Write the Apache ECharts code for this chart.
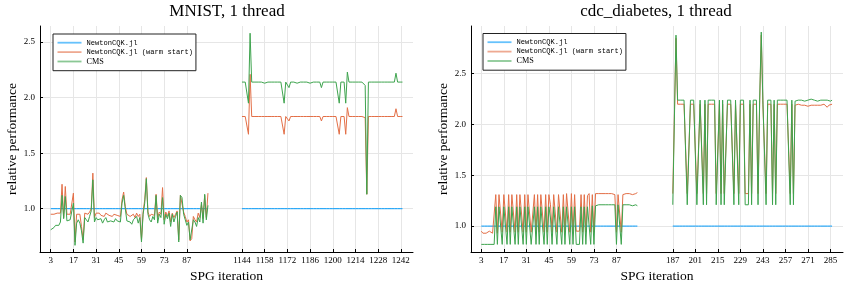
<!DOCTYPE html>
<html><head><meta charset="utf-8">
<script src="https://cdn.jsdelivr.net/npm/echarts@6/dist/echarts.min.js"></script>
<style>html,body{margin:0;padding:0;background:#fff}#c{width:850px;height:284px}</style>
</head><body><div id="c"></div>
<script>
// ---------------- data ----------------
const seriesNames = ['NewtonCQK.jl', 'NewtonCQK.jl (warm start)', 'CMS'];

// NewtonCQK.jl is the reference: its relative performance is 1.0 everywhere
const newtonRelative = 1.0;

// MNIST: iterations 3..100 and 1144..1243
const mnistRangeA = [3, 100];
const mnistRangeB = [1144, 1243];
const mnistTicks = [3, 17, 31, 45, 59, 73, 87, 1144, 1158, 1172, 1186, 1200, 1214, 1228, 1242];

const mnistWarmA = [
  0.95, 0.94, 0.95, 0.95, 0.96, 0.95, 0.96, 1.22, 0.92, 1.20,
  0.95, 0.96, 0.95, 0.95, 1.14, 0.70, 0.95, 0.96, 0.95, 0.84,
  0.72, 0.96, 0.95, 0.95, 0.97, 1.00, 1.32, 0.92, 0.96, 0.95,
  0.96, 0.94, 0.95, 0.93, 0.96, 0.95, 0.94, 0.95, 0.93, 0.95,
  0.96, 0.94, 0.95, 0.93, 1.08, 1.15, 1.02, 0.95, 0.96, 0.93,
  0.94, 0.95, 0.92, 0.96, 0.93, 0.95, 0.72, 0.97, 1.08, 1.28,
  0.97, 0.93, 0.95, 0.96, 0.94, 1.13, 0.92, 0.97, 0.95, 1.19,
  0.90, 0.97, 0.93, 0.98, 0.88, 0.96, 0.92, 0.95, 0.98, 0.72,
  1.12, 1.11, 0.97, 0.93, 0.88, 0.90, 0.71, 0.73, 0.93, 0.90,
  0.88, 0.96, 0.92, 1.04, 0.91, 1.12, 0.92, 1.14
];
const mnistCmsA = [
  0.81, 0.82, 0.83, 0.85, 0.86, 0.85, 0.88, 1.12, 0.91, 1.11,
  0.89, 0.88, 0.90, 0.90, 1.05, 0.67, 0.87, 0.90, 0.87, 0.80,
  0.69, 0.92, 0.90, 0.88, 0.93, 0.98, 1.26, 0.88, 0.92, 0.90,
  0.89, 0.91, 0.87, 0.90, 0.92, 0.88, 0.87, 0.89, 0.90, 0.88,
  0.91, 0.89, 0.90, 0.88, 1.05, 1.12, 1.00, 0.89, 0.90, 0.88,
  0.86, 0.90, 0.89, 0.93, 0.87, 0.92, 0.70, 0.95, 1.05, 1.27,
  0.95, 0.90, 0.88, 0.93, 0.90, 1.12, 0.87, 0.95, 0.92, 1.10,
  0.86, 0.95, 0.91, 0.96, 0.84, 0.95, 0.88, 0.93, 0.97, 0.70,
  1.12, 1.10, 0.95, 0.90, 0.85, 0.88, 0.72, 0.72, 0.90, 0.88,
  0.84, 0.92, 0.88, 1.06, 0.87, 1.13, 0.90, 1.03
];
const mnistWarmB = [
  1.83, 1.83, 1.83, 1.82, 1.67, 2.21, 1.83, 1.83, 1.83, 1.83,
  1.83, 1.83, 1.83, 1.83, 1.83, 1.83, 1.83, 1.83, 1.83, 1.83,
  1.83, 1.83, 1.83, 1.83, 1.83, 1.83, 1.67, 1.83, 1.83, 1.79,
  1.83, 1.83, 1.83, 1.83, 1.83, 1.83, 1.83, 1.83, 1.83, 1.83,
  1.83, 1.83, 1.83, 1.83, 1.83, 1.83, 1.83, 1.83, 1.83, 1.79,
  1.83, 1.83, 1.83, 1.83, 1.83, 1.83, 1.83, 1.83, 1.83, 1.83,
  1.67, 1.83, 1.83, 1.83, 1.67, 1.91, 1.83, 1.83, 1.83, 1.83,
  1.83, 1.83, 1.83, 1.83, 1.83, 1.83, 1.82, 1.13, 1.83, 1.83,
  1.83, 1.83, 1.83, 1.83, 1.83, 1.83, 1.83, 1.83, 1.83, 1.83,
  1.83, 1.83, 1.83, 1.83, 1.83, 1.90, 1.83, 1.83, 1.83, 1.83
];
const mnistCmsB = [
  2.14, 2.14, 2.14, 2.13, 1.95, 2.58, 2.14, 2.14, 2.14, 2.13,
  2.14, 2.14, 2.14, 2.14, 2.13, 2.14, 2.14, 2.14, 2.14, 2.14,
  2.14, 2.13, 2.14, 2.14, 2.14, 2.14, 1.95, 2.14, 2.13, 2.09,
  2.14, 2.14, 2.14, 2.14, 2.13, 2.14, 2.14, 2.14, 2.14, 2.14,
  2.14, 2.14, 2.13, 2.14, 2.14, 2.14, 2.14, 2.14, 2.14, 2.09,
  2.14, 2.14, 2.14, 2.14, 2.14, 2.13, 2.14, 2.14, 2.14, 2.14,
  1.95, 2.14, 2.14, 2.14, 1.95, 2.23, 2.14, 2.14, 2.14, 2.14,
  2.14, 2.14, 2.14, 2.14, 2.14, 2.13, 2.11, 1.13, 2.14, 2.14,
  2.14, 2.14, 2.14, 2.14, 2.14, 2.14, 2.14, 2.14, 2.14, 2.14,
  2.14, 2.14, 2.14, 2.14, 2.14, 2.22, 2.14, 2.14, 2.14, 2.14
];

// cdc_diabetes: iterations 3..100 and 187..286
const diabRangeA = [3, 100];
const diabRangeB = [187, 286];
const diabTicks = [3, 17, 31, 45, 59, 73, 87, 187, 201, 215, 229, 243, 257, 271, 285];

const diabWarmA = [
  0.95, 0.93, 0.92, 0.93, 0.94, 0.95, 0.94, 0.93, 0.92, 1.31,
  0.93, 1.31, 1.31, 0.94, 1.31, 1.31, 0.94, 1.31, 0.94, 1.31,
  1.31, 0.94, 1.31, 0.94, 1.31, 1.31, 0.94, 1.31, 0.94, 1.31,
  1.31, 0.94, 0.94, 1.31, 0.94, 1.31, 0.94, 1.31, 1.30, 0.94,
  1.31, 0.94, 1.31, 1.21, 0.94, 1.31, 1.31, 0.94, 1.31, 1.31,
  0.94, 1.31, 0.94, 1.32, 1.32, 0.94, 1.32, 0.94, 1.31, 0.95,
  0.95, 0.95, 1.31, 0.94, 1.31, 0.94, 1.30, 1.32, 0.94, 1.31,
  0.94, 1.32, 1.32, 1.32, 1.31, 1.32, 1.32, 1.32, 1.31, 1.32,
  1.31, 1.32, 1.32, 1.31, 0.94, 1.31, 1.31, 0.94, 1.31, 1.31,
  1.32, 1.31, 1.32, 1.32, 1.31, 1.32, 1.32, 1.33
];
const diabCmsA = [
  0.82, 0.83, 0.82, 0.82, 0.82, 0.81, 0.82, 0.83, 0.82, 1.19,
  0.82, 1.19, 1.19, 0.82, 1.19, 1.19, 0.82, 1.19, 0.82, 1.19,
  1.19, 0.82, 1.19, 0.82, 1.19, 1.19, 0.82, 1.19, 0.82, 1.19,
  1.19, 0.82, 0.82, 1.19, 0.82, 1.19, 0.82, 1.19, 1.19, 0.82,
  1.19, 0.82, 1.19, 1.08, 0.82, 1.19, 1.19, 0.82, 1.19, 1.19,
  0.82, 1.19, 0.82, 1.19, 1.19, 0.82, 1.19, 0.82, 1.19, 0.82,
  0.82, 0.82, 1.19, 0.82, 1.19, 0.82, 1.19, 1.19, 0.82, 1.20,
  0.82, 1.20, 1.21, 1.21, 1.20, 1.21, 1.21, 1.21, 1.20, 1.21,
  1.21, 1.21, 1.20, 1.21, 0.82, 1.21, 1.21, 0.82, 1.21, 1.20,
  1.21, 1.21, 1.21, 1.21, 1.20, 1.21, 1.21, 1.20
];
const diabWarmB = [
  1.32, 1.32, 2.85, 2.20, 2.20, 2.20, 2.20, 2.20, 2.20, 1.32,
  1.32, 2.20, 2.20, 2.20, 2.20, 1.32, 1.32, 2.20, 2.20, 1.32,
  2.20, 1.32, 2.20, 2.20, 2.20, 2.20, 2.20, 1.32, 1.32, 2.20,
  1.32, 2.20, 1.32, 1.32, 2.20, 2.20, 2.20, 2.20, 1.32, 2.20,
  2.20, 1.32, 2.20, 2.20, 2.20, 1.32, 1.32, 1.32, 2.20, 1.32,
  2.20, 2.20, 2.20, 1.32, 2.20, 2.88, 2.20, 2.20, 1.32, 2.20,
  2.20, 2.20, 1.32, 2.20, 1.32, 2.20, 2.20, 2.20, 2.20, 2.20,
  2.20, 2.20, 2.20, 1.32, 2.20, 1.32, 2.19, 2.19, 2.20, 2.19,
  2.19, 2.20, 2.19, 2.19, 2.18, 2.19, 2.19, 2.20, 2.19, 2.19,
  2.19, 2.18, 2.19, 2.19, 2.20, 2.19, 2.17, 2.19, 2.20, 2.20
];
const diabCmsB = [
  1.21, 1.21, 2.88, 2.24, 2.24, 2.24, 2.24, 2.24, 2.24, 1.21,
  1.21, 2.24, 2.24, 2.24, 2.24, 1.21, 1.21, 2.24, 2.24, 1.21,
  2.24, 1.21, 2.24, 2.24, 2.24, 2.24, 2.24, 1.21, 1.21, 2.24,
  1.21, 2.24, 1.21, 1.21, 2.24, 2.24, 2.24, 2.24, 1.21, 2.24,
  2.24, 1.21, 2.24, 2.24, 2.24, 1.21, 1.21, 1.21, 2.24, 1.21,
  2.24, 2.24, 2.24, 1.21, 2.24, 2.91, 2.24, 2.24, 1.21, 2.24,
  2.24, 2.24, 1.21, 2.24, 1.21, 2.24, 2.24, 2.24, 2.24, 2.24,
  2.24, 2.24, 2.24, 1.21, 2.24, 1.21, 2.23, 2.24, 2.24, 2.25,
  2.24, 2.24, 2.23, 2.24, 2.24, 2.24, 2.25, 2.24, 2.24, 2.24,
  2.23, 2.24, 2.24, 2.24, 2.24, 2.25, 2.24, 2.24, 2.23, 2.24
];

const yTickValues = [1.0, 1.5, 2.0, 2.5];

// ---------------- layout / style ----------------
const COLORS = ['#009AFA', '#E36F47', '#3EA44E'];
const SERIF = "'Liberation Serif', 'DejaVu Serif', serif";
const MONO = "'Liberation Mono', 'DejaVu Sans Mono', monospace";
const GRIDC = '#e6e6e6';

const panels = [
  { title: 'MNIST, 1 thread', rangeA: mnistRangeA, rangeB: mnistRangeB, ticks: mnistTicks,
    warmA: mnistWarmA, warmB: mnistWarmB, cmsA: mnistCmsA, cmsB: mnistCmsB,
    bPos0: 121, xMin: -3.6, xMax: 226.5, yMin: 0.61, yMax: 2.645,
    grid: { left: 40, top: 26, width: 373, height: 226 }, titleX: 227, legendPos: { left: 53, top: 34 } },
  { title: 'cdc_diabetes, 1 thread', rangeA: diabRangeA, rangeB: diabRangeB, ticks: diabTicks,
    warmA: diabWarmA, warmB: diabWarmB, cmsA: diabCmsA, cmsB: diabCmsB,
    bPos0: 122, xMin: -3.4, xMax: 227.8, yMin: 0.745, yMax: 2.97,
    grid: { left: 471, top: 26, width: 372, height: 226 }, titleX: 656, legendPos: { left: 483, top: 33.5 } }
];

// broken x-axis: iteration -> plotted position (segment B placed after a gap)
function makePos(p) {
  return it => (it <= p.rangeA[1] ? it : p.bPos0 + (it - p.rangeB[0]));
}

function buildData(p, valsA, valsB) {
  const pos = makePos(p);
  const out = [];
  for (let i = 0; i <= p.rangeA[1] - p.rangeA[0]; i++) {
    const it = p.rangeA[0] + i;
    out.push([pos(it), valsA === null ? newtonRelative : valsA[i]]);
  }
  out.push([(p.rangeA[1] + p.bPos0) / 2, '-']);
  for (let i = 0; i <= p.rangeB[1] - p.rangeB[0]; i++) {
    const it = p.rangeB[0] + i;
    out.push([pos(it), valsB === null ? newtonRelative : valsB[i]]);
  }
  return out;
}

const option = {
  animation: false,
  backgroundColor: '#fff',
  title: [], grid: [], xAxis: [], yAxis: [], legend: [], series: []
};

panels.forEach((p, k) => {
  const pos = makePos(p);
  const tickPos = p.ticks.map(pos);
  const labelMap = {};
  p.ticks.forEach(t => { labelMap[pos(t)] = String(t); });

  option.title.push({
    text: p.title, left: p.titleX, top: 3, textAlign: 'center', padding: 0,
    textStyle: { fontFamily: SERIF, fontSize: 17, fontWeight: 'normal', color: '#000' }
  });
  option.grid.push(Object.assign({ outerBoundsMode: 'none', containLabel: false }, p.grid));
  option.xAxis.push({
    gridIndex: k, type: 'value', min: p.xMin, max: p.xMax,
    name: 'SPG iteration', nameLocation: 'middle', nameGap: 15,
    nameTextStyle: { fontFamily: SERIF, fontSize: 13.5, color: '#000' },
    axisLine: { show: true, onZero: false, lineStyle: { color: '#000', width: 1 } },
    axisTick: { show: true, inside: true, length: 3, customValues: tickPos, lineStyle: { color: '#000' } },
    axisLabel: { customValues: tickPos, formatter: v => labelMap[v] || '', fontFamily: SERIF, fontSize: 9, color: '#000', margin: 4, hideOverlap: false },
    splitLine: { show: true, customValues: tickPos, lineStyle: { color: GRIDC, width: 1 } }
  });
  option.yAxis.push({
    gridIndex: k, type: 'value', min: p.yMin, max: p.yMax,
    name: 'relative performance', nameLocation: 'middle', nameGap: 21, nameRotate: 90,
    nameTextStyle: { fontFamily: SERIF, fontSize: 13.5, color: '#000' },
    axisLine: { show: true, onZero: false, lineStyle: { color: '#000', width: 1 } },
    axisTick: { show: true, inside: true, length: 3, customValues: yTickValues, lineStyle: { color: '#000' } },
    axisLabel: { customValues: yTickValues, formatter: v => v.toFixed(1), fontFamily: SERIF, fontSize: 9, color: '#000', margin: 5 },
    splitLine: { show: true, customValues: yTickValues, lineStyle: { color: GRIDC, width: 1 } }
  });
  option.legend.push({
    left: p.legendPos.left, top: p.legendPos.top, orient: 'vertical',
    data: seriesNames, icon: 'rect', itemWidth: 24, itemHeight: 1.8, itemGap: 0,
    padding: [4, 3, 4.5, 4.5], borderColor: '#222', borderWidth: 1, backgroundColor: '#fff',
    selectedMode: false, inactiveColor: '#ccc',
    itemStyle: { opacity: 0.6 },
    formatter: n => (n === 'CMS' ? '{s|' + n + '}' : '{m|' + n + '}'),
    textStyle: {
      color: '#000', fontFamily: MONO, fontSize: 7.1, lineHeight: 9.4,
      rich: {
        m: { fontFamily: MONO, fontSize: 7.1, lineHeight: 9.4, color: '#000' },
        s: { fontFamily: SERIF, fontSize: 8.2, lineHeight: 9.4, color: '#000' }
      }
    }
  });
  const vals = [[null, null], [p.warmA, p.warmB], [p.cmsA, p.cmsB]];
  seriesNames.forEach((name, j) => {
    option.series.push({
      name, type: 'line', xAxisIndex: k, yAxisIndex: k,
      data: buildData(p, vals[j][0], vals[j][1]),
      showSymbol: false, symbol: 'none', connectNulls: false,
      lineStyle: { width: 1, color: COLORS[j] }, itemStyle: { color: COLORS[j] },
      emphasis: { disabled: true }, z: 2 + j
    });
  });
});

const chart = echarts.init(document.getElementById('c'), null, { renderer: 'canvas' });
chart.setOption(option);
</script></body></html>
